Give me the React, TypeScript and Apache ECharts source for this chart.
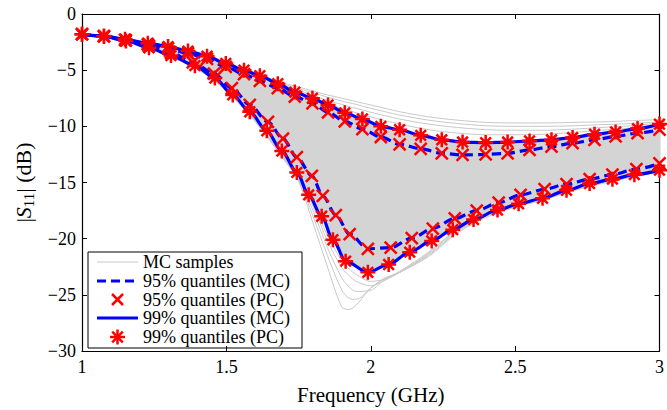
import React, { useEffect, useRef } from "react";
import * as echarts from "echarts";

// ---- Data ----
const freqUpper = [1.000,1.076,1.149,1.228,1.298,1.367,1.433,1.498,1.561,1.616,1.678,1.737,1.798,1.852,1.910,1.971,2.035,2.100,2.173,2.246,2.318,2.398,2.474,2.550,2.626,2.699,2.775,2.848,2.924,3.000];
const upper99 = [-1.8,-1.95,-2.25,-2.6,-2.9,-3.3,-3.75,-4.4,-5.0,-5.5,-6.2,-6.95,-7.5,-8.1,-8.8,-9.35,-10.0,-10.3,-10.8,-11.2,-11.4,-11.45,-11.4,-11.3,-11.2,-11.0,-10.7,-10.5,-10.2,-9.8];
const upper95 = [-1.8,-1.97,-2.3,-2.7,-3.05,-3.5,-4.0,-4.7,-5.35,-5.95,-6.6,-7.35,-7.95,-8.75,-9.55,-10.25,-10.95,-11.6,-12.0,-12.4,-12.55,-12.5,-12.4,-12.1,-11.8,-11.5,-11.2,-10.9,-10.6,-10.3];

const freqLower99 = [1.000,1.076,1.152,1.232,1.308,1.391,1.460,1.522,1.581,1.640,1.692,1.744,1.785,1.830,1.869,1.913,1.990,2.062,2.135,2.211,2.284,2.356,2.439,2.512,2.595,2.678,2.758,2.837,2.913,3.000];
const lower99 = [-1.8,-2.0,-2.4,-3.0,-3.7,-4.6,-5.7,-7.2,-8.7,-10.4,-12.2,-14.1,-16.1,-18.0,-20.1,-22.0,-23.0,-22.3,-21.2,-20.2,-19.2,-18.3,-17.45,-16.9,-16.4,-15.7,-15.1,-14.7,-14.3,-13.9];

const freqLower95 = [1.000,1.076,1.152,1.232,1.308,1.384,1.457,1.519,1.581,1.644,1.696,1.744,1.796,1.834,1.879,1.927,1.990,2.069,2.142,2.215,2.291,2.367,2.443,2.519,2.602,2.678,2.758,2.837,2.920,3.000];
const lower95 = [-1.8,-1.98,-2.35,-2.85,-3.45,-4.3,-5.3,-6.6,-8.1,-9.6,-11.1,-12.75,-14.4,-16.2,-17.9,-19.6,-20.9,-20.8,-19.95,-19.1,-18.2,-17.5,-16.8,-16.1,-15.6,-15.15,-14.7,-14.3,-13.8,-13.3];

// Monte Carlo samples that stray outside the dense band
const mcFreq = [1.0,1.1,1.2,1.3,1.4,1.5,1.6,1.7,1.75,1.8,1.85,1.9,1.925,1.95,2.0,2.05,2.1,2.2,2.3,2.4,2.5,2.6,2.7,2.8,2.9,3.0];
const mcTopA = [-1.75,-2.0,-2.4,-2.8,-3.4,-4.3,-5.25,-6.15,-6.5,-6.85,-7.2,-7.5,-7.65,-7.8,-8.1,-8.4,-8.7,-9.15,-9.45,-9.65,-9.7,-9.7,-9.65,-9.6,-9.5,-9.4];
const mcTopB = [-1.75,-2.02,-2.42,-2.83,-3.42,-4.33,-5.3,-6.25,-6.65,-7.0,-7.4,-7.75,-7.9,-8.05,-8.4,-8.7,-9.0,-9.45,-9.75,-9.95,-10.0,-10.0,-9.95,-9.85,-9.75,-9.6];
const mcTopC = [-1.75,-2.05,-2.45,-2.86,-3.45,-4.36,-5.32,-6.35,-6.8,-7.25,-7.7,-8.05,-8.25,-8.4,-8.75,-9.05,-9.35,-9.8,-10.1,-10.3,-10.35,-10.35,-10.25,-10.1,-9.95,-9.7];
const mcTopD = [-1.75,-2.05,-2.47,-2.88,-3.48,-4.38,-5.34,-6.45,-6.95,-7.45,-7.95,-8.4,-8.6,-8.8,-9.15,-9.5,-9.8,-10.3,-10.6,-10.75,-10.75,-10.7,-10.55,-10.35,-10.15,-9.8];
const mcDipA = [-1.85,-2.1,-2.8,-3.75,-4.9,-6.85,-9.6,-13.0,-14.9,-18.6,-22.5,-26.1,-26.3,-25.9,-24.4,-23.5,-23.0,-21.6,-19.5,-18.1,-17.2,-16.55,-15.75,-15.1,-14.55,-14.1];
const mcDipB = [-1.85,-2.1,-2.8,-3.75,-4.9,-6.8,-9.5,-12.9,-14.8,-18.0,-21.5,-24.6,-25.3,-25.4,-24.4,-23.5,-23.0,-21.5,-19.4,-18.0,-17.15,-16.5,-15.7,-15.05,-14.5,-14.05];
const mcDipC = [-1.85,-2.1,-2.8,-3.7,-4.85,-6.75,-9.45,-12.8,-14.7,-17.5,-20.8,-23.5,-24.3,-24.7,-24.6,-23.6,-23.0,-21.4,-19.3,-17.95,-17.1,-16.45,-15.65,-15.0,-14.45,-14.0];
const mcDipD = [-1.85,-2.1,-2.8,-3.7,-4.8,-6.7,-9.4,-12.7,-14.6,-17.1,-20.2,-22.6,-23.3,-23.8,-24.2,-23.7,-23.0,-21.3,-19.2,-17.9,-17.05,-16.4,-15.6,-14.95,-14.4,-13.95];
const mcDipE = [-1.85,-2.1,-2.8,-3.7,-4.8,-6.7,-9.35,-12.65,-14.5,-16.9,-19.7,-22.0,-22.7,-23.2,-23.8,-23.6,-22.9,-21.2,-19.15,-17.85,-17.0,-16.4,-15.6,-14.95,-14.4,-13.95];

const xTicks = [1, 1.5, 2, 2.5, 3];
const yTicks = [0, -5, -10, -15, -20, -25, -30];

const legendNames = ["MC samples", "95% quantiles (MC)", "95% quantiles (PC)", "99% quantiles (MC)", "99% quantiles (PC)"];

const FONT = "'Liberation Serif', 'Times New Roman', 'DejaVu Serif', serif";
const BLUE = "#0000ff";
const RED = "#ff0000";
const GRAY_LINE = "#c8c8c8";
const GRAY_FILL = "#d4d4d4";

const X_SYMBOL = "path://M0,0L10,10M10,0L0,10";
const STAR_SYMBOL = "path://M5,0L5,10M0,5L10,5M1.46,1.46L8.54,8.54M8.54,1.46L1.46,8.54";

const zip = (xs: number[], ys: number[]) => xs.map((x, i) => [x, ys[i]]);

const fmtMinus = (v: number) => (v < 0 ? "\u2212" + Math.abs(v) : String(v));

// legend drawing helpers (graphic)
const seg = (x1: number, y1: number, x2: number, y2: number, style: any) => ({
  type: "line",
  shape: { x1, y1, x2, y2 },
  style,
  silent: true,
});

function buildLegend() {
  const left = 88, top = 252, w = 214, h = 96;
  const iconX1 = 97, iconX2 = 138, iconC = 117.5, textX = 143;
  const rows = [262, 281, 299.5, 318, 337];
  const lw = 2.5;
  const children: any[] = [
    { type: "rect", shape: { x: left, y: top, width: w, height: h }, style: { fill: "#fff", stroke: "#000", lineWidth: 1 }, silent: true },
  ];
  children.push(seg(iconX1, rows[0], iconX2, rows[0], { stroke: GRAY_LINE, lineWidth: 1 }));
  children.push(seg(iconX1, rows[1], iconX2, rows[1], { stroke: BLUE, lineWidth: 3, lineDash: [9, 5] }));
  const xs = 5.5;
  children.push(seg(iconC - xs, rows[2] - xs, iconC + xs, rows[2] + xs, { stroke: RED, lineWidth: lw }));
  children.push(seg(iconC + xs, rows[2] - xs, iconC - xs, rows[2] + xs, { stroke: RED, lineWidth: lw }));
  children.push(seg(iconX1, rows[3], iconX2, rows[3], { stroke: BLUE, lineWidth: 3 }));
  const s = 7.5, d = 5.3;
  children.push(seg(iconC, rows[4] - s, iconC, rows[4] + s, { stroke: RED, lineWidth: lw }));
  children.push(seg(iconC - s, rows[4], iconC + s, rows[4], { stroke: RED, lineWidth: lw }));
  children.push(seg(iconC - d, rows[4] - d, iconC + d, rows[4] + d, { stroke: RED, lineWidth: lw }));
  children.push(seg(iconC + d, rows[4] - d, iconC - d, rows[4] + d, { stroke: RED, lineWidth: lw }));
  legendNames.forEach((name, i) => {
    children.push({
      type: "text",
      x: textX,
      y: rows[i],
      style: { text: name, fill: "#000", fontFamily: FONT, fontSize: 18, verticalAlign: "middle", align: "left" },
      silent: true,
    });
  });
  return { type: "group", z: 100, children };
}

export default function App() {
  const ref = useRef<HTMLDivElement>(null);

  useEffect(() => {
    if (!ref.current) return;
    const chart = echarts.init(ref.current, null, { renderer: "svg" });

    const axisCommon = {
      type: "value" as const,
      axisLine: { show: true, onZero: false, lineStyle: { color: "#000", width: 1.2 } },
      axisTick: { show: true, inside: true, length: 5, lineStyle: { color: "#000", width: 1 } },
      splitLine: { show: false },
    };

    const grayLine = (ys: number[], idx: number) => ({
      name: "MC samples",
      type: "line",
      id: "mc" + idx,
      data: zip(mcFreq, ys),
      symbol: "none",
      smooth: 0.3,
      lineStyle: { color: GRAY_LINE, width: 1 },
      itemStyle: { color: GRAY_LINE },
      silent: true,
      z: 1,
    });

    const blueLine = (name: string, xs: number[], ys: number[], dashed: boolean) => ({
      name,
      type: "line",
      data: zip(xs, ys),
      symbol: "none",
      smooth: 0.3,
      smoothMonotone: "x",
      lineStyle: { color: BLUE, width: 3.2, type: dashed ? [9, 5] : "solid" },
      itemStyle: { color: BLUE },
      z: 3,
    });

    const markers = (name: string, pts: number[][], symbol: string, size: number, z: number) => ({
      name,
      type: "scatter",
      data: pts,
      symbol,
      symbolSize: size,
      itemStyle: { color: RED, borderColor: RED, borderWidth: 2.5, opacity: 1 },
      z,
    });

    const option: any = {
      animation: false,
      backgroundColor: "#fff",
      textStyle: { fontFamily: FONT },
      grid: { left: 82, right: 7, top: 14, bottom: 54, containLabel: false },
      xAxis: [
        {
          ...axisCommon,
          min: 1,
          max: 3,
          interval: 0.5,
          position: "bottom",
          name: "Frequency (GHz)",
          nameLocation: "middle",
          nameGap: 33,
          nameTextStyle: { fontFamily: FONT, fontSize: 21, color: "#000" },
          axisLabel: {
            show: true,
            margin: 7,
            fontFamily: FONT,
            fontSize: 18,
            color: "#000",
            customValues: xTicks,
            formatter: (v: number) => String(v),
          },
        },
        {
          ...axisCommon,
          min: 1,
          max: 3,
          interval: 0.5,
          position: "top",
          axisLabel: { show: false },
        },
      ],
      yAxis: [
        {
          ...axisCommon,
          min: -30,
          max: 0,
          interval: 5,
          position: "left",
          name: "|{s|S}{sub|11}| (dB)",
          nameLocation: "middle",
          nameRotate: 90,
          nameGap: 46,
          nameTextStyle: {
            fontFamily: FONT,
            fontSize: 22,
            color: "#000",
            rich: {
              s: { fontFamily: FONT, fontSize: 22, fontStyle: "italic", color: "#000" },
              sub: { fontFamily: FONT, fontSize: 15, color: "#000", verticalAlign: "bottom", padding: [10, 0, 0, 0] },
            },
          },
          axisLabel: {
            show: true,
            margin: 6,
            fontFamily: FONT,
            fontSize: 18,
            color: "#000",
            customValues: yTicks,
            formatter: fmtMinus,
          },
        },
        {
          ...axisCommon,
          min: -30,
          max: 0,
          interval: 5,
          position: "right",
          axisLabel: { show: false },
        },
      ],
      graphic: [buildLegend()],
      series: [
        grayLine(mcTopA, 0),
        grayLine(mcTopB, 1),
        grayLine(mcTopC, 2),
        grayLine(mcTopD, 3),
        grayLine(mcDipA, 4),
        grayLine(mcDipB, 5),
        grayLine(mcDipC, 6),
        grayLine(mcDipD, 7),
        grayLine(mcDipE, 8),
        {
          name: "MC band",
          type: "custom",
          data: [[2, -15]],
          silent: true,
          z: 1,
          renderItem: (_params: any, api: any) => {
            const top = freqUpper.map((f, i) => api.coord([f, upper99[i]]));
            const bot = freqLower99.map((f, i) => api.coord([f, lower99[i]])).reverse();
            return {
              type: "polygon",
              shape: { points: [...top, ...bot] },
              style: { fill: GRAY_FILL, stroke: GRAY_FILL, lineWidth: 1 },
            };
          },
        },
        blueLine("95% quantiles (MC)", freqUpper, upper95, true),
        blueLine("95% quantiles (MC)", freqLower95, lower95, true),
        markers("95% quantiles (PC)", [...zip(freqUpper, upper95), ...zip(freqLower95, lower95)], X_SYMBOL, 12, 4),
        blueLine("99% quantiles (MC)", freqUpper, upper99, false),
        blueLine("99% quantiles (MC)", freqLower99, lower99, false),
        markers("99% quantiles (PC)", [...zip(freqUpper, upper99), ...zip(freqLower99, lower99)], STAR_SYMBOL, 15, 5),
      ],
    };

    chart.setOption(option);
    return () => chart.dispose();
  }, []);

  return (
    <div
      ref={ref}
      style={{ position: "absolute", left: 0, top: 0, width: 667, height: 410, background: "#fff" }}
    />
  );
}
